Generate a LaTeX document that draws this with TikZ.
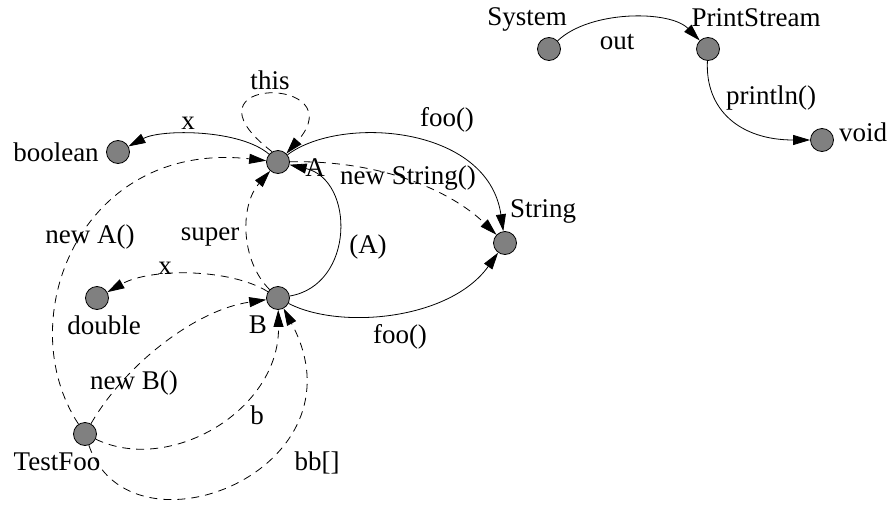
\documentclass[tikz,border=0pt]{standalone}
\usepackage{fontspec}
\setmainfont{Liberation Serif}
\usetikzlibrary{arrows.meta}
\begin{document}
\begin{tikzpicture}[x=1pt,y=1pt,
  obj/.style={circle,draw,fill=black!50,minimum size=23pt,inner sep=0pt,line width=0.8pt},
  lbl/.style={inner sep=0pt,font=\fontsize{27}{30}\selectfont},
  conn/.style={line width=0.8pt,-{Triangle[length=17pt,width=10pt]}},
  dsh/.style={conn,dash pattern=on 8pt off 6pt}]
\useasboundingbox (0,0) rectangle (889,-506);
% nodes
\node[obj] (A) at (278,-162) {};
\node[obj] (B) at (278,-298) {};
\node[obj] (bool) at (118,-152) {};
\node[obj] (dbl) at (97,-298) {};
\node[obj] (tf) at (85,-434) {};
\node[obj] (str) at (505,-243) {};
\node[obj] (sys) at (549,-49) {};
\node[obj] (ps) at (708,-49) {};
\node[obj] (void) at (822,-140) {};
% node labels
\node[lbl] (lA) at (315,-168) {A};
\node[lbl] (lB) at (258,-325) {B};
\node[lbl] (lbool) at (56,-152) {boolean};
\node[lbl] (ldbl) at (104,-325) {double};
\node[lbl] (ltf) at (57,-462) {TestFoo};
\node[lbl] (lstr) at (543,-211) {String};
\node[lbl] (lsys) at (527,-19) {System};
\node[lbl] (lps) at (756,-18) {PrintStream};
\node[lbl] (lvoid) at (863,-132) {void};
% connectors
\draw[conn] (A) .. controls (240,-129) and (161,-129) .. (bool);
\draw[dsh] (A.120) .. controls (172,-75) and (356,-75) .. (A.45);
\draw[conn] (A) .. controls (340,-115) and (488,-125) .. (str);
\draw[dsh] (A) .. controls (380,-160) and (450,-190) .. (str);
\draw[conn] (B) .. controls (355,-285) and (355,-180) .. (A);
\draw[conn] (B) .. controls (340,-330) and (450,-320) .. (str);
\draw[dsh] (B) .. controls (240,-260) and (240,-205) .. (A);
\draw[dsh] (B) .. controls (230,-268) and (150,-268) .. (dbl);
\draw[dsh] (tf) .. controls (10,-320) and (80,-140) .. (A);
\draw[dsh] (tf) .. controls (125,-365) and (195,-310) .. (B);
\draw[dsh] (tf) .. controls (170,-475) and (280,-410) .. (B);
\draw[dsh] (tf) .. controls (130,-565) and (370,-470) .. (B);
\draw[conn] (sys) .. controls (590,-10) and (670,-10) .. (ps);
\draw[conn] (ps) .. controls (705,-110) and (740,-140) .. (void);
% edge labels
\node[lbl] (ex1) at (188,-123) {x};
\node[lbl] (ethis) at (270,-80) {this};
\node[lbl] (efoo1) at (447,-120) {foo()};
\node[lbl] (ens) at (408,-178) {new String()};
\node[lbl] (ecast) at (368,-247) {(A)};
\node[lbl] (efoo2) at (400,-337) {foo()};
\node[lbl] (esuper) at (210,-237) {super};
\node[lbl] (ex2) at (165,-268) {x};
\node[lbl] (ena) at (90,-237) {new A()};
\node[lbl] (enb) at (134,-383) {new B()};
\node[lbl] (eb) at (257,-415) {b};
\node[lbl] (ebb) at (317,-463) {bb[]};
\node[lbl] (eout) at (617,-42) {out};
\node[lbl] (epl) at (771,-98) {println()};
\end{tikzpicture}
\end{document}
